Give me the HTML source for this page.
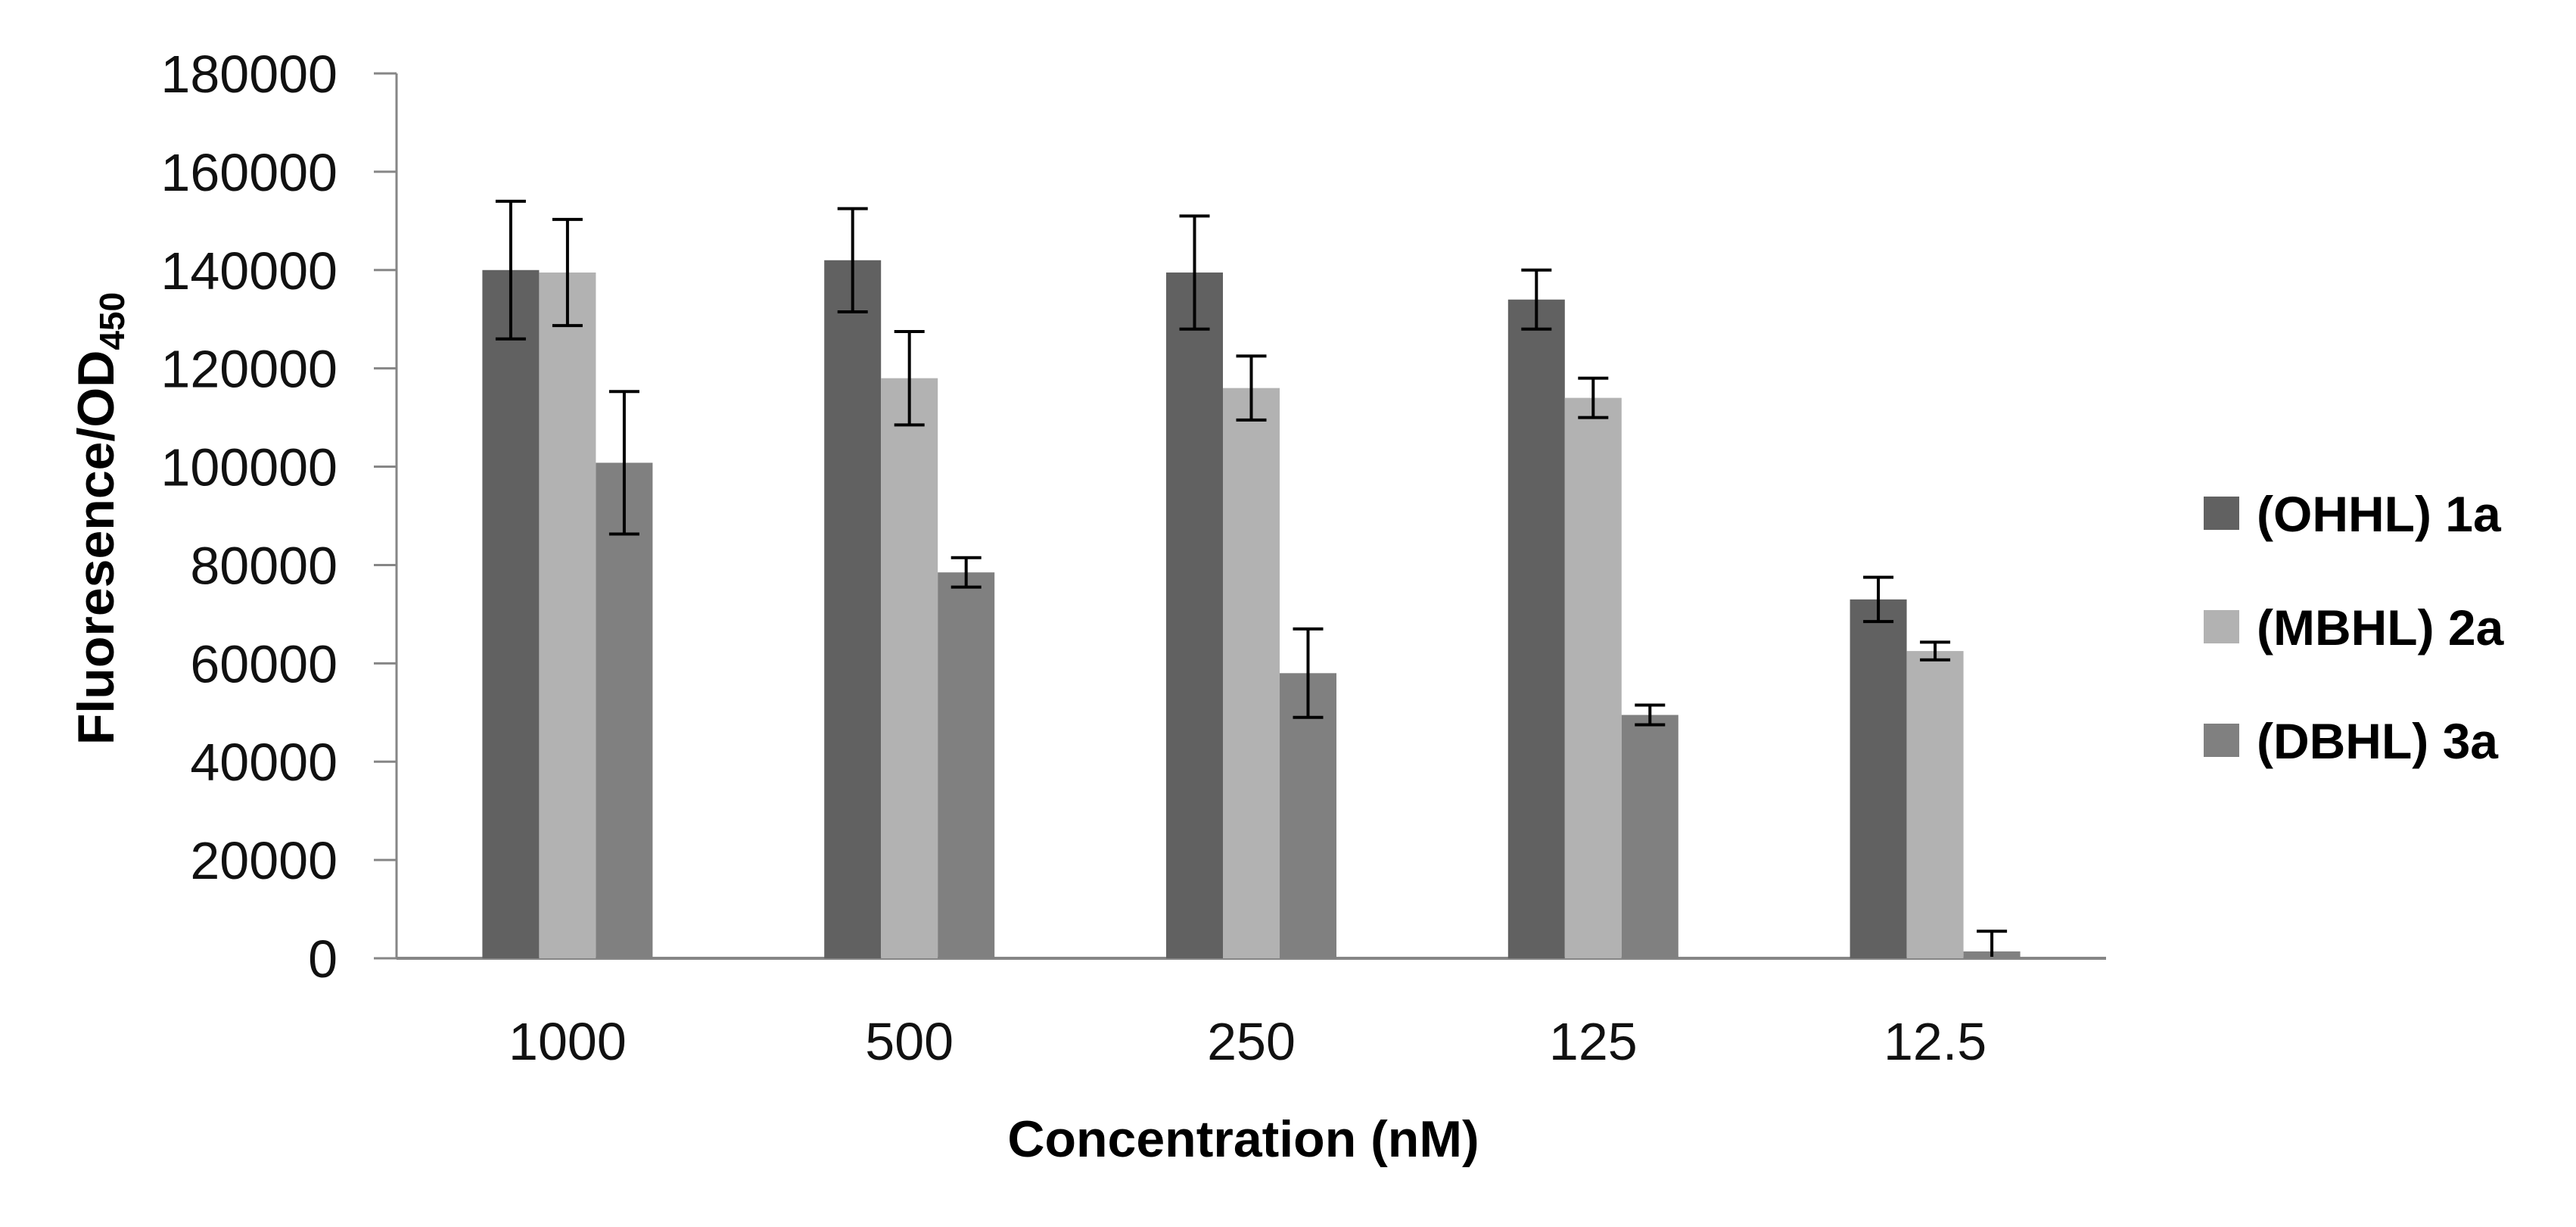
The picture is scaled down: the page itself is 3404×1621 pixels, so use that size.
<!DOCTYPE html>
<html><head><meta charset="utf-8"><style>
html,body{margin:0;padding:0;background:#fff;}
svg{display:block;}
text{font-family:"Liberation Sans",sans-serif;}
</style></head><body>
<svg id="chart" width="3404" height="1621" viewBox="0 0 3404 1621" xmlns="http://www.w3.org/2000/svg">
<g id="axes"></g>
<g id="bars"></g>
<text transform="translate(150,685) rotate(-90)" text-anchor="middle" font-size="68" font-weight="bold">Fluoresence/OD<tspan font-size="46" dy="14">450</tspan></text>
<text x="1643" y="1528" text-anchor="middle" font-size="68" font-weight="bold">Concentration (nM)</text>
<g id="legend"></g>
</svg>
<script>
const categories = ["1000","500","250","125","12.5"];
const seriesNames = ["(OHHL) 1a","(MBHL) 2a","(DBHL) 3a"];
const ohhl = [140000,142000,139500,134000,73000];
const mbhl = [139500,118000,116000,114000,62500];
const dbhl = [100800,78500,58000,49500,1400];
const ohhlErr = [14000,10500,11500,6000,4500];
const mbhlErr = [10800,9500,6500,4000,1800];
const dbhlErr = [14500,3000,9000,2000,4100];
const yTicks = [0,20000,40000,60000,80000,100000,120000,140000,160000,180000];

const colors = ["#616161","#b2b2b2","#808080"];
const NS = "http://www.w3.org/2000/svg";
const X0 = 524, X1 = 2783, Y0 = 1266, Y1 = 97, YMAX = 180000;
const catW = (X1 - X0) / categories.length;
const barW = 75;
function y(v){ return Y0 - (v / YMAX) * (Y0 - Y1); }
function xc(i){ return X0 + catW * (i + 0.5); }
function mk(tag, attrs, parent){ const e = document.createElementNS(NS, tag); for (const k in attrs) e.setAttribute(k, attrs[k]); parent.appendChild(e); return e; }

const axes = document.getElementById("axes");
const yAxis = mk("line", {x1:X0, y1:Y1, x2:X0, y2:Y0, stroke:"#868686", "stroke-width":3}, axes);


const xAxis = mk("line", {x1:X0, y1:Y0, x2:X1, y2:Y0, stroke:"#868686", "stroke-width":4}, axes);


yTicks.forEach(t => {
  const tk = mk("line", {x1:X0-30, y1:y(t), x2:X0, y2:y(t), stroke:"#868686", "stroke-width":3}, axes);
  
  
  const lb = mk("text", {x:446, y:y(t)+25, "text-anchor":"end", "font-size":"70", fill:"#111"}, axes);
  
  
  lb.textContent = t;
});
categories.forEach((c, i) => {
  const lb = mk("text", {x:xc(i), y:1400, "text-anchor":"middle", "font-size":"70", fill:"#111"}, axes);
  
  
  lb.textContent = c;
});

const bars = document.getElementById("bars");
const vals = [ohhl, mbhl, dbhl];
const errs = [ohhlErr, mbhlErr, dbhlErr];
vals.forEach((series, s) => {
  series.forEach((v, i) => {
    const x = xc(i) - 1.5 * barW + s * barW;
    const r = mk("rect", {x:x, y:y(v), width:barW, height:Y0 - y(v), fill:colors[s]}, bars);
    
    
    const cx = x + barW / 2, top = y(v + errs[s][i]), bot = Math.min(y(v - errs[s][i]), Y0 - 2);
    const g = mk("g", {stroke:"#000", "stroke-width":4}, bars);
    
    
    mk("line", {x1:cx, y1:top, x2:cx, y2:bot}, g);
    mk("line", {x1:cx-20, y1:top, x2:cx+20, y2:top}, g);
    if (v - errs[s][i] >= 0) mk("line", {x1:cx-20, y1:bot, x2:cx+20, y2:bot}, g);
  });
});

const legend = document.getElementById("legend");
seriesNames.forEach((n, s) => {
  const cy = 678 + s * 150;
  const g = mk("g", {}, legend);
  
  
  mk("rect", {x:2912, y:cy-22, width:47, height:44, fill:colors[s]}, g);
  const t = mk("text", {x:2982, y:cy+24, "font-size":"66", "font-weight":"bold", fill:"#000"}, g);
  t.textContent = n;
});
</script>
</body></html>
